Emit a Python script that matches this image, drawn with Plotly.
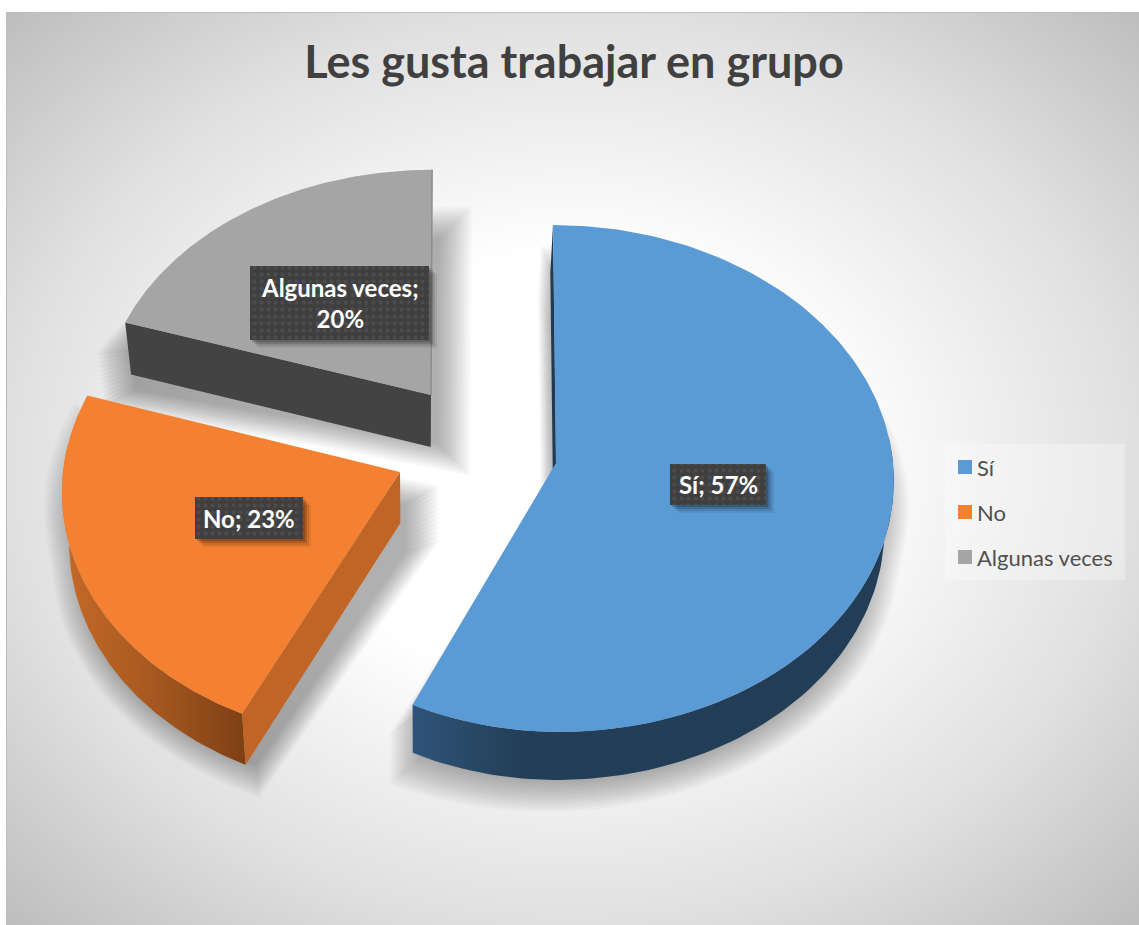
"""Les gusta trabajar en grupo: tarta 3D separada, dibujada con trazas de Plotly"""
import numpy as np
import plotly.graph_objects as go

categories = ["Sí", "No", "Algunas veces"]
values = [57, 23, 20]
title_text = "Les gusta trabajar en grupo"

W, H = 1139, 925
LEFT, TOP = 6, 12
FONT = "Lato"

TOP_COLORS = ["#5b9bd5", "#f48132", "#a5a5a5"]
CUT_COLORS = ["#1f3a52", "#c16527", "#434343"]
SIDE_SCALES = [
    [[0, "#2f5479"], [0.22, "#233f57"], [1, "#223d55"]],
    [[0, "#c66a28"], [0.5, "#a65820"], [1, "#7d4014"]],
    [[0, "#434343"], [1, "#434343"]],
]

# apex, radii and shear of each exploded slice, in page pixels
GEOMETRY = [
    dict(cx=556, cy=463, rx=337, rx_left=325, ry=252.5, shear=0.0126, depth=48),
    dict(cx=400, cy=472, rx=337, rx_left=337, ry=252.5, shear=-0.025, depth=51),
    dict(cx=431, cy=395, rx=328, rx_left=328, ry=239, shear=-0.005, depth=52),
]
PERSPECTIVE = 0.061
VANISH_X = 420
# box that each slice's drop shadow fills
SHADOWS = [
    dict(x0=405, x1=893, y0=262, y1=796),
    dict(x0=60, x1=424, y0=420, y1=782),
    dict(x0=112, x1=456, y0=222, y1=460),
]
LABEL_BOXES = [
    dict(x0=670, x1=766, y0=464, y1=505),
    dict(x0=195, x1=303, y0=497, y1=539),
    dict(x0=250, x1=429, y0=266, y1=340),
]
LEGEND_ROWS = [467, 512, 557]


def arc(geo, start, stop, n=160):
    """Borde exterior de la porción entre dos ángulos (grados, horario desde arriba)"""
    t = np.radians(np.linspace(start, stop, n))
    s = 1 / (1 + PERSPECTIVE * np.cos(t))
    y = geo["cy"] - geo["ry"] * np.cos(t) * s
    radius = np.where(np.sin(t) < 0, geo["rx_left"], geo["rx"])
    x = geo["cx"] + radius * np.sin(t) * s + geo["shear"] * (y - geo["cy"])
    return x, y


def lower(geo, x, y, share=1.0):
    """Desplaza puntos de la cara superior hacia la cara inferior"""
    x = np.asarray(x, dtype=float)
    return x + 0.02 * share * (VANISH_X - x), np.asarray(y, dtype=float) + geo["depth"] * share


def polygon(x, y, **kwargs):
    return go.Scatter(
        x=np.append(x, x[0]), y=np.append(y, y[0]), mode="lines", fill="toself",
        line=dict(width=0), hoverinfo="skip", showlegend=False, **kwargs,
    )


fig = go.Figure()

# fondo degradado
hw, hh = (W - LEFT) / 2, (H - TOP) / 2
mx, my = LEFT + hw, TOP + hh
bx = np.array([mx - hw * 1.42, mx + hw * 1.42, mx + hw * 1.42, mx - hw * 1.42])
by = np.array([my - hh * 1.42, my - hh * 1.42, my + hh * 1.42, my + hh * 1.42])
fig.add_trace(polygon(bx, by, fillgradient=dict(
    type="radial",
    colorscale=[[0, "#ffffff"], [0.33, "#ffffff"], [0.7, "#e0e0e0"], [1, "#bdbdbd"]],
)))

fractions = np.array(values) / sum(values)
edges = np.concatenate([[0], np.cumsum(fractions) * 360])

# sombras: silueta de la porción, ajustada a su caja y difuminada por capas
for i, shadow in enumerate(SHADOWS):
    geo = GEOMETRY[i]
    x, y = arc(geo, edges[i], edges[i + 1])
    ax, ay = np.append(x, geo["cx"]), np.append(y, geo["cy"])
    copies = [lower(geo, ax, ay, share) for share in np.linspace(0, 1, 13)]
    all_x = np.concatenate([c[0] for c in copies])
    all_y = np.concatenate([c[1] for c in copies])
    sx = (shadow["x1"] - shadow["x0"]) / (all_x.max() - all_x.min())
    sy = (shadow["y1"] - shadow["y0"]) / (all_y.max() - all_y.min())
    mid_x, mid_y = (shadow["x0"] + shadow["x1"]) / 2, (shadow["y0"] + shadow["y1"]) / 2
    half_x, half_y = (shadow["x1"] - shadow["x0"]) / 2, (shadow["y1"] - shadow["y0"]) / 2
    for pad in np.linspace(-16, 16, 17):
        path_x, path_y = [], []
        for qx, qy in copies:
            ox = shadow["x0"] + (qx - all_x.min()) * sx
            oy = shadow["y0"] + (qy - all_y.min()) * sy
            path_x += list(mid_x + (ox - mid_x) * (1 + pad / half_x)) + [None]
            path_y += list(mid_y + (oy - mid_y) * (1 + pad / half_y)) + [None]
        fig.add_trace(go.Scatter(
            x=path_x, y=path_y, mode="lines", fill="toself", line=dict(width=0),
            fillcolor="rgba(0,0,0,0.02)", hoverinfo="skip", showlegend=False,
        ))

# porciones, de atrás hacia delante
for i in (2, 1, 0):
    geo = GEOMETRY[i]
    x, y = arc(geo, edges[i], edges[i + 1])
    # pared exterior: solo la parte que mira al espectador
    visible = np.cos(np.radians(np.linspace(edges[i], edges[i + 1], len(x)))) < 0.12
    if visible.any():
        wx, wy = x[visible], y[visible]
        lx, ly = lower(geo, wx, wy)
        fig.add_trace(polygon(
            np.concatenate([wx, lx[::-1]]), np.concatenate([wy, ly[::-1]]),
            fillgradient=dict(type="horizontal", colorscale=SIDE_SCALES[i]),
        ))
    # cara de corte
    ux, uy = np.array([geo["cx"], x[0]]), np.array([geo["cy"], y[0]])
    lx, ly = lower(geo, ux, uy)
    fig.add_trace(polygon(
        np.concatenate([ux, lx[::-1]]), np.concatenate([uy, ly[::-1]]),
        fillcolor=CUT_COLORS[i],
    ))
    fig.add_trace(polygon(
        np.append(x, geo["cx"]), np.append(y, geo["cy"]), fillcolor=TOP_COLORS[i],
    ))
    if i == 2:
        fig.add_trace(go.Scatter(
            x=[geo["cx"], x[-1]], y=[geo["cy"], y[-1]], mode="lines",
            line=dict(color="#8c8c8c", width=1.5), hoverinfo="skip", showlegend=False,
        ))

# etiquetas con fondo punteado y sombra
for i, box in enumerate(LABEL_BOXES):
    rx = np.array([box["x0"], box["x1"], box["x1"], box["x0"]], dtype=float)
    ry = np.array([box["y0"], box["y0"], box["y1"], box["y1"]], dtype=float)
    for off, alpha in ((8, 0.07), (6, 0.1), (4, 0.14), (2, 0.18)):
        fig.add_trace(polygon(rx + off, ry + off, fillcolor=f"rgba(0,0,0,{alpha})"))
    fig.add_trace(polygon(rx, ry, fillcolor="#3f3f3f", fillpattern=dict(
        shape=".", bgcolor="#3f3f3f", fgcolor="#5a5a5a", size=7, solidity=0.25,
    )))
    name = categories[i]
    text = f"{name}; {values[i]}%"
    if i == 2:
        text = f"{name};<br>{values[i]}%"
    fig.add_annotation(
        x=(box["x0"] + box["x1"]) / 2, y=(box["y0"] + box["y1"]) / 2, text=text,
        showarrow=False, font=dict(family=FONT, size=24, color="white", weight="bold"),
    )

# leyenda
fig.add_trace(polygon(np.array([945, 1125, 1125, 945]), np.array([444, 444, 580, 580]),
                      fillcolor="rgba(255,255,255,0.3)"))
fig.add_trace(go.Scatter(
    x=[965] * len(categories), y=LEGEND_ROWS, mode="markers", hoverinfo="skip", showlegend=False,
    marker=dict(symbol="square", size=14, color=TOP_COLORS, line=dict(width=0)),
))
for name, row in zip(categories, LEGEND_ROWS):
    fig.add_annotation(
        x=978, y=row, text=name, showarrow=False, xanchor="left", xshift=-3,
        font=dict(family=FONT, size=22, color="#505050"),
    )

fig.add_shape(type="line", x0=LEFT, x1=LEFT, y0=TOP, y1=H, layer="above",
              line=dict(color="#bdbdbd", width=2))
fig.add_shape(type="line", x0=LEFT, x1=W, y0=TOP, y1=TOP, layer="above",
              line=dict(color="#bdbdbd", width=2))

fig.update_layout(
    width=W, height=H, margin=dict(l=LEFT, r=0, t=TOP, b=0),
    paper_bgcolor="white", plot_bgcolor="white", hovermode=False, showlegend=False,
    title=dict(text=title_text, x=574 / W, xanchor="center", y=1 - 62 / H, yanchor="middle",
               font=dict(family=FONT, size=45, color="#404040", weight="bold")),
    xaxis=dict(range=[LEFT, W], visible=False, fixedrange=True),
    yaxis=dict(range=[H, TOP], visible=False, fixedrange=True),
)

fig.write_html("out.html", config={"displayModeBar": False},
               post_script="document.body.style.margin = '0';")
